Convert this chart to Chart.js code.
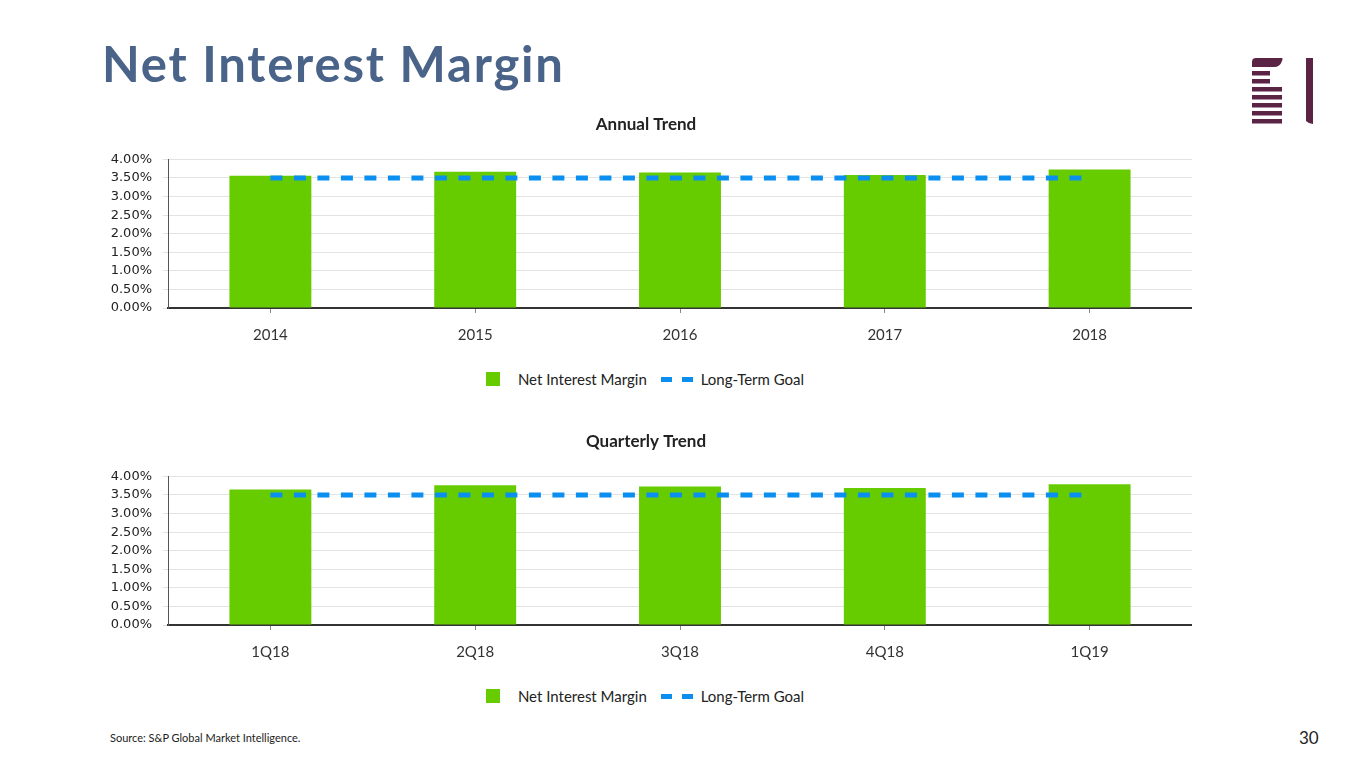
<!DOCTYPE html>
<html>
<head>
<meta charset="utf-8">
<title>Net Interest Margin</title>
<script src="https://cdn.jsdelivr.net/npm/chart.js@4"></script>
<style>
    body { margin: 0; width: 1365px; height: 768px; background: #fff; position: relative; overflow: hidden; font-family: Lato, "Open Sans", sans-serif; }
    .page-title { position: absolute; left: 102px; top: 39px; margin: 0; font-size: 49px; letter-spacing: 1.8px; font-weight: 700; color: #4a6489; line-height: 1; }
    .chart-box { position: absolute; left: 100px; width: 1092px; height: 247px; }
    .legend { position: absolute; left: 0; width: 1290px; text-align: center; font-size: 15px; color: #222; }
    .legend span { display: inline-block; vertical-align: middle; }
    .swatch { width: 14px; height: 14px; background: #66cc00; margin-right: 18px; }
    .dash { width: 11px; height: 5px; background: #0a8ff0; }
    .source { position: absolute; left: 110px; top: 731px; font-size: 11px; color: #222; }
    .page-num { position: absolute; left: 1299px; top: 727px; font-size: 17px; color: #222; }
    .logo { position: absolute; left: 1250px; top: 56px; }
</style>
</head>
<body>
<h1 class="page-title">Net Interest Margin</h1>
<svg class="logo" width="66" height="70" viewBox="0 0 66 70">
    <path d="M6 2 H32 Q33 2 32 5 Q30 11 24 11 H2 V6 Q2 2 6 2 Z" fill="#5b2344"/>
    <rect x="2" y="15" width="18" height="4.5" fill="#5b2344"/>
    <rect x="2" y="23" width="18" height="4.5" fill="#5b2344"/>
    <rect x="2" y="31" width="30" height="4.5" fill="#5b2344"/>
    <rect x="2" y="39" width="30" height="4.5" fill="#5b2344"/>
    <rect x="2" y="47" width="30" height="4.5" fill="#5b2344"/>
    <rect x="2" y="55" width="30" height="4.5" fill="#5b2344"/>
    <rect x="2" y="63" width="30" height="4.5" fill="#5b2344"/>
    <path d="M56 2 H63 V68 Q59 68 56 65 Z" fill="#5b2344"/>
</svg>

<div class="chart-box" style="top:110px"><canvas id="annualChart"></canvas></div>
<div class="legend" style="top:368px">
    <span class="swatch"></span><span>Net Interest Margin</span>
    <span class="dash" style="margin-left:10px"></span><span class="dash" style="margin-left:10px;margin-right:8px"></span><span>Long-Term Goal</span>
</div>

<div class="chart-box" style="top:427px"><canvas id="quarterChart"></canvas></div>
<div class="legend" style="top:685px">
    <span class="swatch"></span><span>Net Interest Margin</span>
    <span class="dash" style="margin-left:10px"></span><span class="dash" style="margin-left:10px;margin-right:8px"></span><span>Long-Term Goal</span>
</div>

<div class="source">Source: S&amp;P Global Market Intelligence.</div>
<div class="page-num">30</div>

<script>
// Annual trend (percent)
const annualLabels = ['2014', '2015', '2016', '2017', '2018'];
const annualNim = [3.56, 3.67, 3.65, 3.58, 3.73];
const annualGoal = [3.50, 3.50, 3.50, 3.50, 3.50];

// Quarterly trend (percent)
const quarterLabels = ['1Q18', '2Q18', '3Q18', '4Q18', '1Q19'];
const quarterNim = [3.65, 3.76, 3.73, 3.69, 3.79];
const quarterGoal = [3.50, 3.50, 3.50, 3.50, 3.50];

const yTicks = { min: 0, max: 4, step: 0.5 };

function buildChart(canvasId, title, labels, nim, goal) {
    const ctx = document.getElementById(canvasId).getContext('2d');
    return new Chart(ctx, {
        type: 'bar',
        data: {
            labels: labels,
            datasets: [
                {
                    type: 'line',
                    label: 'Long-Term Goal',
                    data: goal,
                    borderColor: '#0a8ff0',
                    borderWidth: 5,
                    borderDash: [12, 11.5],
                    pointRadius: 0,
                    fill: false,
                    order: 1
                },
                {
                    label: 'Net Interest Margin',
                    data: nim,
                    backgroundColor: '#66cc00',
                    barPercentage: 0.4,
                    categoryPercentage: 1,
                    order: 2
                }
            ]
        },
        options: {
            responsive: true,
            maintainAspectRatio: false,
            animation: false,
            layout: { padding: 0 },
            plugins: {
                legend: { display: false },
                tooltip: { enabled: false },
                title: {
                    display: true,
                    text: title,
                    color: '#222',
                    font: { family: 'Lato', size: 17, weight: 'bold' },
                    padding: { top: 4, bottom: 25 }
                }
            },
            scales: {
                x: {
                    grid: { display: true, drawOnChartArea: false, offset: false, tickLength: 5, color: '#888' },
                    border: { color: '#333', width: 2 },
                    ticks: { color: '#333', padding: 13, font: { family: 'Lato', size: 15 } }
                },
                y: {
                    min: yTicks.min,
                    max: yTicks.max,
                    afterFit: scale => { scale.width = 68; },
                    grid: { color: '#e3e3e3', tickLength: 5 },
                    border: { color: '#555', width: 1 },
                    ticks: {
                        stepSize: yTicks.step,
                        autoSkip: false,
                        color: '#222',
                        padding: 11,
                        font: { family: 'DejaVu Sans', size: 13 },
                        callback: v => v.toFixed(2) + '%'
                    }
                }
            }
        }
    });
}

buildChart('annualChart', 'Annual Trend', annualLabels, annualNim, annualGoal);
buildChart('quarterChart', 'Quarterly Trend', quarterLabels, quarterNim, quarterGoal);
</script>
</body>
</html>
